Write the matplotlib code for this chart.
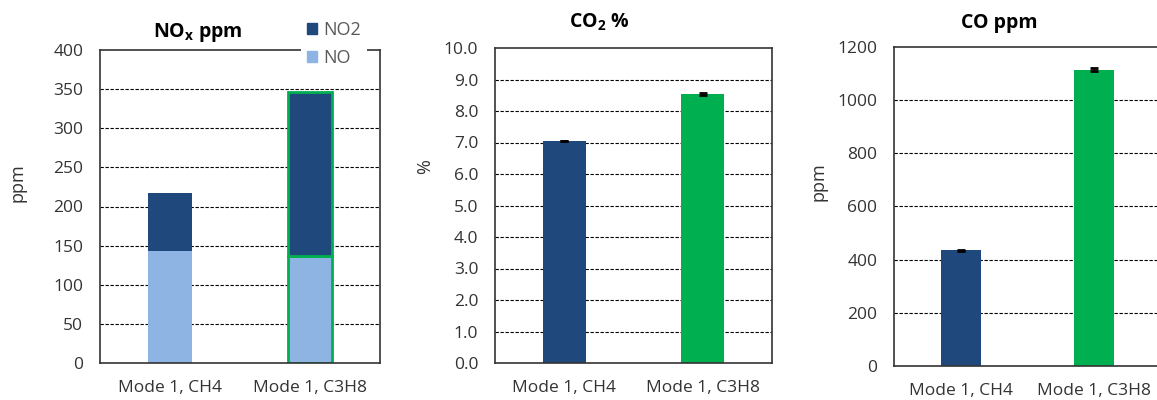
import numpy as np
import matplotlib.pyplot as plt
from matplotlib.patches import Patch

plt.rcParams['font.family'] = ['Open Sans', 'DejaVu Sans']

modes = ['Mode 1, CH4', 'Mode 1, C3H8']
no_ppm = [143, 137]
no2_ppm = [74, 209]
co2_pct = [7.05, 8.54]
co2_err = [0.01, 0.02]
co_ppm = [436, 1115]
co_err = [2, 5]

dark_blue = '#1f497d'
light_blue = '#8eb4e3'
green = '#00b050'
grey_txt = '#333333'
W, H = 1157, 400


def style_axes(ax, ymax, step, fmt):
    ax.set_xlim(-0.5, 1.5)
    ax.set_ylim(0, ymax)
    ticks = np.arange(0, ymax + step / 2, step)
    ax.set_yticks(ticks)
    ax.set_yticklabels([fmt % t for t in ticks])
    ax.set_xticks([0, 1])
    ax.set_xticklabels(modes)
    ax.tick_params(length=0, labelsize=12.5, colors=grey_txt, pad=12)
    for t in ticks[1:-1]:
        ax.axhline(t, color='k', lw=0.8, ls=(0, (3, 1.5)), zorder=0)
    for s in ax.spines.values():
        s.set_color('#333333')
        s.set_linewidth(1.2)


fig = plt.figure(figsize=(W / 100, H / 100), dpi=100)

# NOx stacked bars
ax1 = fig.add_axes([100 / W, 37 / H, 280 / W, 313 / H])
x = np.arange(len(modes))
edges = ['none', green]
ax1.bar(x, no_ppm, width=0.32, color=light_blue, edgecolor=edges, linewidth=2, zorder=2)
ax1.bar(x, no2_ppm, bottom=no_ppm, width=0.32, color=dark_blue, edgecolor=edges, linewidth=2, zorder=2)
style_axes(ax1, 400, 50, '%d')
leg = ax1.legend(handles=[Patch(color=dark_blue, label='NO2'), Patch(color=light_blue, label='NO')],
                 loc='center', bbox_to_anchor=(334 / W, 1 - 44 / H), bbox_transform=fig.transFigure,
                 frameon=True, fancybox=False, edgecolor='none', facecolor='white', framealpha=1,
                 handlelength=0.6, handleheight=0.6, handletextpad=0.35, labelspacing=0.55,
                 borderpad=0.3, fontsize=13)
for t in leg.get_texts():
    t.set_color('#595959')

# CO2 bars
ax2 = fig.add_axes([495 / W, 37 / H, 277 / W, 315 / H])
ax2.bar(x, co2_pct, width=0.31, color=[dark_blue, green], yerr=co2_err,
        error_kw=dict(ecolor='k', capsize=3, capthick=2, elinewidth=1), zorder=2)
style_axes(ax2, 10, 1, '%.1f')

# CO bars
ax3 = fig.add_axes([894 / W, 34 / H, 267 / W, 319 / H])
ax3.bar(x, co_ppm, width=0.30, color=[dark_blue, green], yerr=co_err,
        error_kw=dict(ecolor='k', capsize=3, capthick=2, elinewidth=1), zorder=2)
style_axes(ax3, 1200, 200, '%d')

fig.text(198 / W, 1 - 32 / H, r'NO$_\mathregular{x}$ ppm', ha='center', va='center', fontsize=14, fontweight='bold')
fig.text(599 / W, 1 - 22 / H, r'CO$_\mathregular{2}$ %', ha='center', va='center', fontsize=14, fontweight='bold')
fig.text(999 / W, 1 - 23 / H, 'CO ppm', ha='center', va='center', fontsize=14, fontweight='bold')

fig.text(17 / W, 1 - 183 / H, 'ppm', rotation=90, ha='center', va='center', fontsize=13, color=grey_txt)
fig.text(425 / W, 1 - 167 / H, '%', rotation=90, ha='center', va='center', fontsize=13, color=grey_txt)
fig.text(818 / W, 1 - 182 / H, 'ppm', rotation=90, ha='center', va='center', fontsize=13, color=grey_txt)

fig.savefig('out.png', dpi=100)
